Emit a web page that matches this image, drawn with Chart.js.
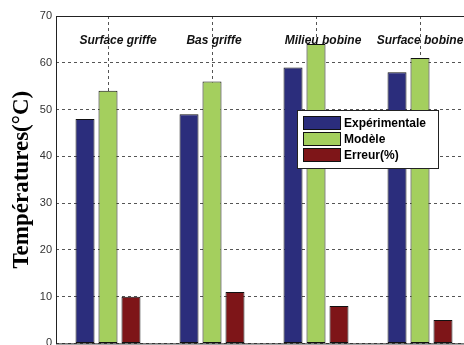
<!DOCTYPE html>
<html>
<head>
<meta charset="utf-8">
<script src="https://cdn.jsdelivr.net/npm/chart.js@4"></script>
<style>
    html, body { margin: 0; padding: 0; background: #fff; overflow: hidden; }
    #wrap { width: 464px; height: 345px; overflow: hidden; }
    #box { width: 474px; height: 354px; }
</style>
</head>
<body>
<div id="wrap"><div id="box"><canvas id="tempChart"></canvas></div></div>
<script>
// categories (positions on the probe)
const categories = ['Surface griffe', 'Bas griffe', 'Milieu bobine', 'Surface bobine'];

// values
const experimental = [48, 49, 59, 58];
const modele = [54, 56, 64, 61];
const erreur = [10, 11, 8, 5];

const yTicks = [0, 10, 20, 30, 40, 50, 60, 70];

// small nudges (px) so the category captions sit like in the original
const captionShift = [10, 2, 7, 0];

// draws the box frame, category captions and the inset legend
const decorPlugin = {
    id: 'decor',
    afterDatasetsDraw(chart) {
        const ctx = chart.ctx;
        const area = chart.chartArea;
        const x = chart.scales.x;
        const y = chart.scales.y;

        ctx.save();
        ctx.strokeStyle = '#222';
        ctx.lineWidth = 1;
        ctx.strokeRect(area.left + 0.5, area.top + 0.5, area.right - area.left, area.bottom - area.top);

        ctx.fillStyle = '#111';
        ctx.font = 'italic bold 12px "Liberation Sans", Arial, sans-serif';
        ctx.textAlign = 'center';
        ctx.textBaseline = 'middle';
        categories.forEach((c, i) => {
            ctx.fillText(c, x.getPixelForValue(i) + captionShift[i], y.getPixelForValue(64.8));
        });
        ctx.restore();
    },
    afterDraw(chart) {
        const ctx = chart.ctx;
        const ds = chart.data.datasets;
        const lx = 297, ly = 110, lw = 141, lh = 58;
        ctx.save();
        ctx.fillStyle = '#fff';
        ctx.fillRect(lx, ly, lw, lh);
        ctx.strokeStyle = '#222';
        ctx.lineWidth = 1;
        ctx.strokeRect(lx + 0.5, ly + 0.5, lw, lh);
        ctx.font = 'bold 12px "Liberation Sans", Arial, sans-serif';
        ctx.textAlign = 'left';
        ctx.textBaseline = 'middle';
        ds.forEach((d, i) => {
            const rowY = ly + 6 + i * 16;
            ctx.fillStyle = d.backgroundColor;
            ctx.fillRect(lx + 6, rowY, 38, 14);
            ctx.strokeStyle = '#111';
            ctx.strokeRect(lx + 6.5, rowY + 0.5, 37, 13);
            ctx.fillStyle = '#000';
            ctx.fillText(d.label, lx + 47, rowY + 7.5);
        });
        ctx.restore();
    }
};

const ctx = document.getElementById('tempChart').getContext('2d');
const tempChart = new Chart(ctx, {
    type: 'bar',
    data: {
        labels: categories,
        datasets: [
            { label: 'Expérimentale', data: experimental, backgroundColor: '#2b2d7c', borderColor: '#111' },
            { label: 'Modèle', data: modele, backgroundColor: '#a4cf5e', borderColor: '#111' },
            { label: 'Erreur(%)', data: erreur, backgroundColor: '#7e1518', borderColor: '#111' }
        ]
    },
    options: {
        responsive: true,
        maintainAspectRatio: false,
        animation: false,
        layout: { padding: { top: 16, right: 2, bottom: 2, left: 0 } },
        datasets: {
            bar: {
                categoryPercentage: 0.663,
                barPercentage: 0.826,
                borderWidth: 1,
                borderSkipped: false
            }
        },
        plugins: {
            legend: { display: false },
            tooltip: { enabled: false }
        },
        scales: {
            x: {
                afterFit(scale) { scale.height = 0; },
                grid: {
                    offset: false,
                    color: '#555',
                    drawTicks: false
                },
                border: { display: false, dash: [3, 3] },
                ticks: { display: false, padding: 0 }
            },
            y: {
                min: 0,
                max: 70,
                afterFit(scale) { scale.width = 56; },
                afterBuildTicks(scale) { scale.ticks = yTicks.map(v => ({ value: v })); },
                grid: { color: '#555', drawTicks: false },
                border: { display: false, dash: [3, 3] },
                ticks: {
                    padding: 4,
                    color: '#333',
                    font: { family: '"Liberation Sans", Arial, sans-serif', size: 11 }
                },
                title: {
                    display: true,
                    text: 'Températures(°C)',
                    color: '#000',
                    padding: { top: 8, bottom: 0 },
                    font: { family: '"Liberation Serif", "Times New Roman", serif', size: 23, weight: 'bold' }
                }
            }
        }
    },
    plugins: [decorPlugin]
});
</script>
</body>
</html>
